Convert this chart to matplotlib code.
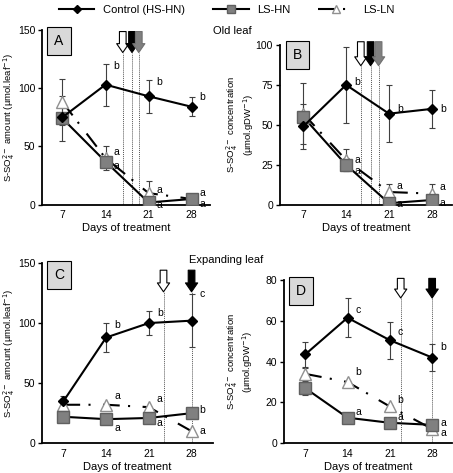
import matplotlib
matplotlib.use("Agg")
import matplotlib.pyplot as plt
from matplotlib.transforms import blended_transform_factory

plt.rcParams['font.family'] = ['Liberation Sans', 'DejaVu Sans']
plt.rcParams['font.size'] = 7.5

days = [7, 14, 21, 28]
series = ['Control (HS-HN)', 'LS-HN', 'LS-LN']

# panel A : old leaf amount
a_ctrl = [75, 103, 93, 84]
a_ctrl_err = [0, 18, 14, 8]
a_hn = [74, 37, 2, 5]
a_hn_err = [19, 5, 0, 0]
a_ln = [88, 40, 10, 5]
a_ln_err = [20, 10, 10, 0]
a_letters = [['', 'b', 'b', 'b'], ['', 'a', 'a', 'a'], ['', 'a', 'a', 'a']]

# panel B : old leaf concentration
b_ctrl = [49, 75, 57, 60]
b_ctrl_err = [14, 24, 18, 12]
b_hn = [55, 25, 1, 3]
b_hn_err = [0, 4, 0, 0]
b_ln = [57, 28, 8, 7]
b_ln_err = [19, 7, 5, 6]
b_letters = [['', 'b', 'b', 'b'], ['', 'a', 'a', 'a'], ['', 'a', 'a', 'a']]

# panel C : expanding leaf amount
c_ctrl = [35, 88, 100, 102]
c_ctrl_err = [4, 12, 10, 22]
c_hn = [22, 20, 21, 25]
c_hn_err = [0, 0, 0, 0]
c_ln = [32, 32, 30, 10]
c_ln_err = [0, 0, 0, 0]
c_letters = [['', 'b', 'b', 'c'], ['', 'a', 'a', 'b'], ['', 'a', 'a', 'a']]

# panel D : expanding leaf concentration
d_ctrl = [43.5, 61.5, 50.5, 42]
d_ctrl_err = [6, 9.5, 9, 6.5]
d_hn = [27, 12.5, 10, 9]
d_hn_err = [3.5, 0, 0, 0]
d_ln = [34, 30, 18, 7]
d_ln_err = [3, 0, 0, 0]
d_letters = [['', 'c', 'c', 'b'], ['', 'a', 'a', 'a'], ['', 'b', 'b', 'a']]

# arrow days (white, black, grey)
a_arrows = [16.8, 18.3, 19.4]
b_arrows = [16.4, 18.0, 19.3]
c_arrows = [23.4, 28]
d_arrows = [22.8, 28]

amount_label = 'S-SO$_4^{2-}$ amount (µmol.leaf$^{-1}$)'
conc_label = 'S-SO$_4^{2-}$ concentration\n(µmol.gDW$^{-1}$)'

fig = plt.figure(figsize=(4.53, 4.73), dpi=100)

styles = [
    dict(color='black', marker='D', ms=5.5, mfc='black', mec='black', ls='-', lw=1.5),
    dict(color='black', marker='s', ms=8.5, mfc='#808080', mec='#606060', ls='-', lw=1.5),
    dict(color='black', marker='^', ms=8.5, mfc='white', mec='#909090', ls=(0, (8, 4, 1, 6)), lw=1.5),
]


def draw_panel(rect, ylim, yticks, ctrl, ce, hn, he, ln, le, letters, letter_dy,
               arrows, arrow_colors, tag, ylabel, xlim, label_x, arrow_y):
    ax = fig.add_axes(rect)
    vals = [ctrl, hn, ln]
    errs = [ce, he, le]
    for i in [2, 1, 0]:
        ax.errorbar(days, vals[i], yerr=[[0] * 4, errs[i]], fmt='none', ecolor='#404040',
                    elinewidth=0.8, capsize=2.5, capthick=0.8, zorder=2)
        ax.errorbar(days, vals[i], yerr=[errs[i], [0] * 4], fmt='none', ecolor='#404040',
                    elinewidth=0.8, capsize=2.5, capthick=0.8, zorder=2)
        ax.plot(days, vals[i], label=series[i], zorder=3 + (2 - i), **styles[i])
    for i in range(3):
        for j, d in enumerate(days):
            if letters[i][j]:
                ax.text(d + 1.3, vals[i][j] + letter_dy[i][j], letters[i][j],
                        fontsize=7.5, va='center', ha='left')
    ax.set_xlim(*xlim)
    ax.set_ylim(*ylim)
    ax.set_yticks(yticks)
    ax.set_xticks(days)
    ax.tick_params(axis='x', length=0, pad=4)
    ax.tick_params(axis='y', length=3, width=1, pad=2)
    for s in ['top', 'right']:
        ax.spines[s].set_visible(False)
    for s in ['left', 'bottom']:
        ax.spines[s].set_linewidth(1.3)
    ax.set_xlabel('Days of treatment', fontsize=8, labelpad=2)
    ax.set_ylabel(ylabel, fontsize=6.8, linespacing=1.1)
    ax.yaxis.set_label_coords(label_x, 0.5)
    trans = blended_transform_factory(ax.transData, ax.transAxes)
    for x, c in zip(arrows, arrow_colors):
        ax.plot([x, x], [0, arrow_y[0]], transform=trans, color='#555555', lw=0.7,
                ls=(0, (1, 1)), zorder=1)
        ax.annotate('', xy=(x, arrow_y[0]), xytext=(x, arrow_y[1]), xycoords=trans, textcoords=trans,
                    arrowprops=dict(arrowstyle='simple,head_length=0.8,head_width=1.1,tail_width=0.6',
                                    mutation_scale=8, shrinkA=0, shrinkB=0,
                                    fc=c, ec='black' if c != '#808080' else '#707070', lw=0.8))
    ax.text(0.1, 0.935, tag, transform=ax.transAxes, fontsize=10, ha='center', va='center',
            bbox=dict(boxstyle='square,pad=0.5', fc='#d9d9d9', ec='black', lw=0.8))
    return ax


axA = draw_panel([0.093, 0.567, 0.371, 0.37], (0, 150), [0, 50, 100, 150],
                 a_ctrl, a_ctrl_err, a_hn, a_hn_err, a_ln, a_ln_err, a_letters,
                 [[0, 16, 12, 8], [0, -4, -2, -4], [0, 5, 3, 5]],
                 a_arrows, ['white', 'black', '#808080'], 'A', amount_label, (3.7, 31),
                 -0.15, (0.87, 0.99))
axB = draw_panel([0.618, 0.567, 0.38, 0.338], (0, 100), [0, 25, 50, 75, 100],
                 b_ctrl, b_ctrl_err, b_hn, b_hn_err, b_ln, b_ln_err, b_letters,
                 [[0, 2, 3, 0], [0, -4, -0.5, -2], [0, 0, 4, 4]],
                 b_arrows, ['white', 'black', '#808080'], 'B', conc_label, (3.2, 31.3),
                 -0.14, (0.87, 1.02))
axC = draw_panel([0.093, 0.063, 0.377, 0.381], (0, 150), [0, 50, 100, 150],
                 c_ctrl, c_ctrl_err, c_hn, c_hn_err, c_ln, c_ln_err, c_letters,
                 [[0, 10, 8, 22], [0, -7, -4, 3], [0, 7, 7, 0]],
                 c_arrows, ['white', 'black'], 'C', amount_label, (3.5, 31.5),
                 -0.15, (0.84, 0.96))
axD = draw_panel([0.627, 0.063, 0.371, 0.345], (0, 80), [0, 20, 40, 60, 80],
                 d_ctrl, d_ctrl_err, d_hn, d_hn_err, d_ln, d_ln_err, d_letters,
                 [[0, 4, 4, 5], [0, 3, 3, 1], [0, 5, 3, -2]],
                 d_arrows, ['white', 'black'], 'D', conc_label, (3.5, 31.3),
                 -0.17, (0.89, 1.01))

fig.text(0.47, 0.935, 'Old leaf', fontsize=8, ha='left', va='center')
fig.text(0.5, 0.45, 'Expanding leaf', fontsize=8, ha='center', va='center')

handles, labels = axA.get_legend_handles_labels()
order = [labels.index(s) for s in series]
fig.legend([handles[k] for k in order], [labels[k] for k in order], loc='upper center',
           bbox_to_anchor=(0.5, 1.01), ncol=3, frameon=False, fontsize=8,
           handlelength=3.2, columnspacing=2.5, markerscale=0.7)

fig.savefig('out.png', dpi=100)
